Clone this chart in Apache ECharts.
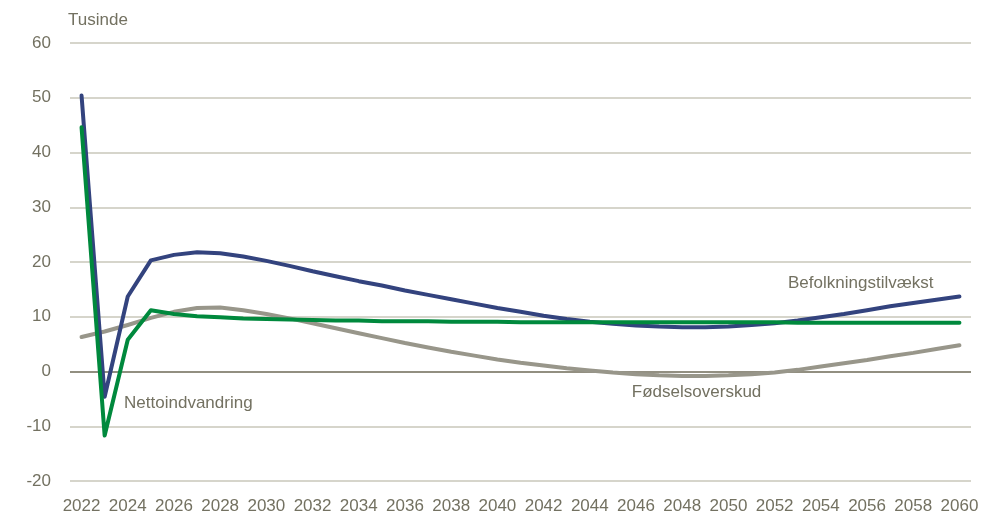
<!DOCTYPE html>
<html>
<head>
<meta charset="utf-8">
<script src="https://cdn.jsdelivr.net/npm/echarts@6/dist/echarts.min.js"></script>
<style>
  html, body { margin: 0; padding: 0; background: #ffffff; }
  #chart { width: 987px; height: 517px; }
</style>
</head>
<body>
<div id="chart"></div>
<script>
// Years 2022-2060
const years = [];
for (let y = 2022; y <= 2060; y++) years.push(String(y));

// Befolkningstilvækst (tusinde)
const befolkningstilvaekst = [
  50.4, -4.6, 13.7, 20.3, 21.3, 21.8, 21.6, 21.0, 20.2, 19.3,
  18.3, 17.4, 16.5, 15.7, 14.8, 14.0, 13.2, 12.4, 11.6, 10.9,
  10.2, 9.6, 9.1, 8.7, 8.4, 8.2, 8.1, 8.1, 8.2, 8.5,
  8.8, 9.3, 9.9, 10.5, 11.2, 11.9, 12.5, 13.1, 13.7
];

// Nettoindvandring (tusinde)
const nettoindvandring = [
  44.6, -11.7, 5.8, 11.2, 10.5, 10.1, 9.9, 9.7, 9.6, 9.5,
  9.4, 9.3, 9.3, 9.2, 9.2, 9.2, 9.1, 9.1, 9.1, 9.0,
  9.0, 9.0, 9.0, 9.0, 9.0, 9.0, 9.0, 9.0, 9.0, 9.0,
  9.0, 8.9, 8.9, 8.9, 8.9, 8.9, 8.9, 8.9, 8.9
];

// Fødselsoverskud (tusinde)
const foedselsoverskud = [
  6.3, 7.3, 8.5, 9.8, 10.9, 11.6, 11.7, 11.2, 10.5, 9.7,
  8.8, 7.9, 7.0, 6.1, 5.2, 4.4, 3.6, 2.9, 2.2, 1.6,
  1.1, 0.6, 0.2, -0.2, -0.5, -0.7, -0.8, -0.8, -0.7, -0.5,
  -0.2, 0.3, 0.9, 1.5, 2.1, 2.8, 3.4, 4.1, 4.8
];

// Series labels, anchored at (fractional category index, value)
const seriesLabels = [
  { text: 'Nettoindvandring', at: [1.84, -5.8] },
  { text: 'Befolkningstilvækst', at: [30.58, 16.1] },
  { text: 'Fødselsoverskud', at: [23.82, -3.8] }
];

const textColor = '#737161';
const fontFamily = '"Liberation Sans", Arial, sans-serif';
const fontSize = 17;

const chart = echarts.init(document.getElementById('chart'), null, { renderer: 'canvas' });

const lineSeries = (name, data, color, z) => ({
  name, type: 'line', data, z,
  symbol: 'none', smooth: false,
  lineStyle: { color, width: 4, cap: 'round', join: 'round' },
  emphasis: { disabled: true }
});

chart.setOption({
  animation: false,
  textStyle: { fontFamily },
  grid: { left: 70, right: 16, top: 43, bottom: 36, containLabel: false },
  xAxis: {
    type: 'category',
    data: years,
    boundaryGap: true,
    axisLine: { show: false },
    axisTick: { show: false },
    axisLabel: { interval: 1, color: textColor, fontSize, margin: 17, fontFamily }
  },
  yAxis: {
    type: 'value',
    min: -20, max: 60, interval: 10,
    name: 'Tusinde',
    nameLocation: 'end',
    nameGap: 23,
    nameTextStyle: { color: textColor, fontSize, align: 'left', verticalAlign: 'middle', padding: [0, 0, 0, -2], fontFamily },
    axisLine: { show: false },
    axisTick: { show: false },
    axisLabel: { color: textColor, fontSize, margin: 19, fontFamily },
    splitLine: { lineStyle: { color: '#c9c7ba', width: 1.5 } }
  },
  series: [
    Object.assign(lineSeries('Fødselsoverskud', foedselsoverskud, '#98968a', 2), {
      markLine: {
        silent: true, symbol: 'none', label: { show: false },
        lineStyle: { color: '#7b7968', width: 1.5, type: 'solid' },
        data: [{ yAxis: 0 }], z: 1
      }
    }),
    lineSeries('Befolkningstilvækst', befolkningstilvaekst, '#33437e', 3),
    lineSeries('Nettoindvandring', nettoindvandring, '#00893d', 4)
  ]
});

// Category axes snap to whole indices, so interpolate between neighbours
function toPixel(at) {
  const i0 = Math.floor(at[0]);
  const f = at[0] - i0;
  const a = chart.convertToPixel({ gridIndex: 0 }, [i0, at[1]]);
  const b = chart.convertToPixel({ gridIndex: 0 }, [i0 + 1, at[1]]);
  return [a[0] + (b[0] - a[0]) * f, a[1]];
}

const graphics = seriesLabels.map(l => {
  const p = toPixel(l.at);
  return {
    type: 'text', x: p[0], y: p[1], z: 10,
    style: { text: l.text, fill: textColor, font: fontSize + 'px ' + fontFamily, verticalAlign: 'middle' }
  };
});
chart.setOption({ graphic: graphics });
</script>
</body>
</html>
